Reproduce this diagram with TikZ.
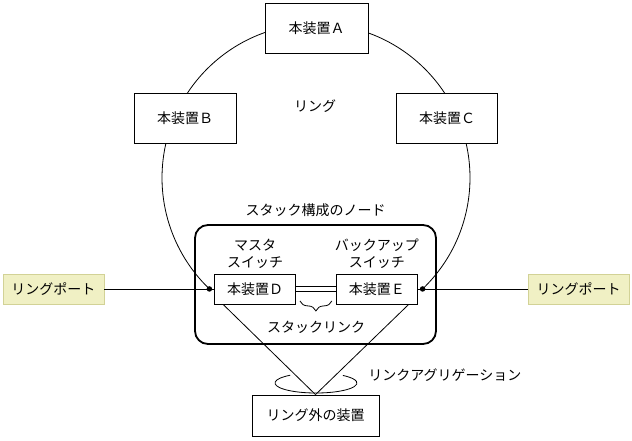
\documentclass[tikz,border=0pt]{standalone}
\usepackage{fontspec}
\setmainfont{Noto Sans CJK JP}
\usepackage{xcolor}
\usetikzlibrary{calc, positioning, decorations.pathreplacing}
\definecolor{portfill}{HTML}{F0F0C4}
\definecolor{portline}{HTML}{D2D296}

\begin{document}
\begin{tikzpicture}[x = 1pt, y = 1pt, line width = 0.8pt,
  every node/.style = {font = \fontsize{14}{17}\selectfont},
  dev/.style = {draw, fill = white, inner sep = 0pt, minimum width = 103pt, minimum height = 50pt},
  sw/.style = {draw, fill = white, inner sep = 0pt, minimum width = 81pt, minimum height = 30pt},
  port/.style = {draw = portline, fill = portfill, inner sep = 0pt, minimum width = 101pt, minimum height = 30pt},
  lbl/.style = {align = center, inner sep = 0pt},
  dot/.style = {circle, fill, inner sep = 0pt, minimum size = 5.5pt}]
\useasboundingbox (0,0) rectangle (632,-440);
% ring
\coordinate (ctr) at (316,-177.8);
\node[dot] (pL) at ($(ctr)+(226.2:154)$) {};
\node[dot] (pR) at ($(ctr)+(-46.2:154)$) {};
\draw (pR.center) arc[start angle = -46.2, end angle = 226.2, radius = 154];
\node[dev] (A) at (316.5,-28) {本装置Ａ};
\node[dev, minimum width = 102pt] (B) at (185,-118.5) {本装置Ｂ};
\node[dev, minimum width = 101pt] (C) at (447,-118.5) {本装置Ｃ};
\node[lbl] (ring) at (315,-106) {リング};
% stack
\node[draw, rounded corners = 13pt, line width = 1.8pt, minimum width = 241pt, minimum height = 119pt] (stk) at (315.5,-284.5) {};
\node[lbl, above = 7pt of stk] (stkT) {スタック構成のノード};
\node[sw] (D) at (255,-289) {本装置Ｄ};
\node[sw, right = 40pt of D] (E) {本装置Ｅ};
\node[lbl, above = 5pt of D] (Dt) {マスタ\\スイッチ};
\node[lbl, above = 5pt of E] (Et) {バックアップ\\スイッチ};
\draw[double, double distance = 4pt] (D) -- (E);
\coordinate (bl) at ($(D.south east)+(4,3.5)$);
\coordinate (br) at ($(E.south west)+(-4,3.5)$);
\draw[decorate, decoration = {brace, mirror, amplitude = 10pt}] (bl) -- (br);
\node[lbl] (lnk) at (316,-327) {スタックリンク};
% ports
\node[port] (PL) at (53.5,-289) {リングポート};
\node[port] (PR) at (578.5,-289) {リングポート};
% outside device
\node[dev, minimum width = 127pt, minimum height = 41pt] (O) at (315.5,-415.5) {リング外の装置};
\coordinate (DL) at ($(D.south west)!0.11!(D.south east)$);
\coordinate (ER) at ($(E.south east)!0.11!(E.south west)$);
\foreach \i/\j in {PL/D, PR/E, DL/O.north, ER/O.north}{
\draw (\i) -- (\j);
}
% link aggregation
\coordinate (lag) at (316,-383);
\draw ([shift = {(129:41 and 10)}]lag) arc[start angle = 129, end angle = 409, x radius = 41, y radius = 10];
\node[lbl, anchor = west] (lagT) at (368,-375) {リンクアグリゲーション};
\end{tikzpicture}
\end{document}
